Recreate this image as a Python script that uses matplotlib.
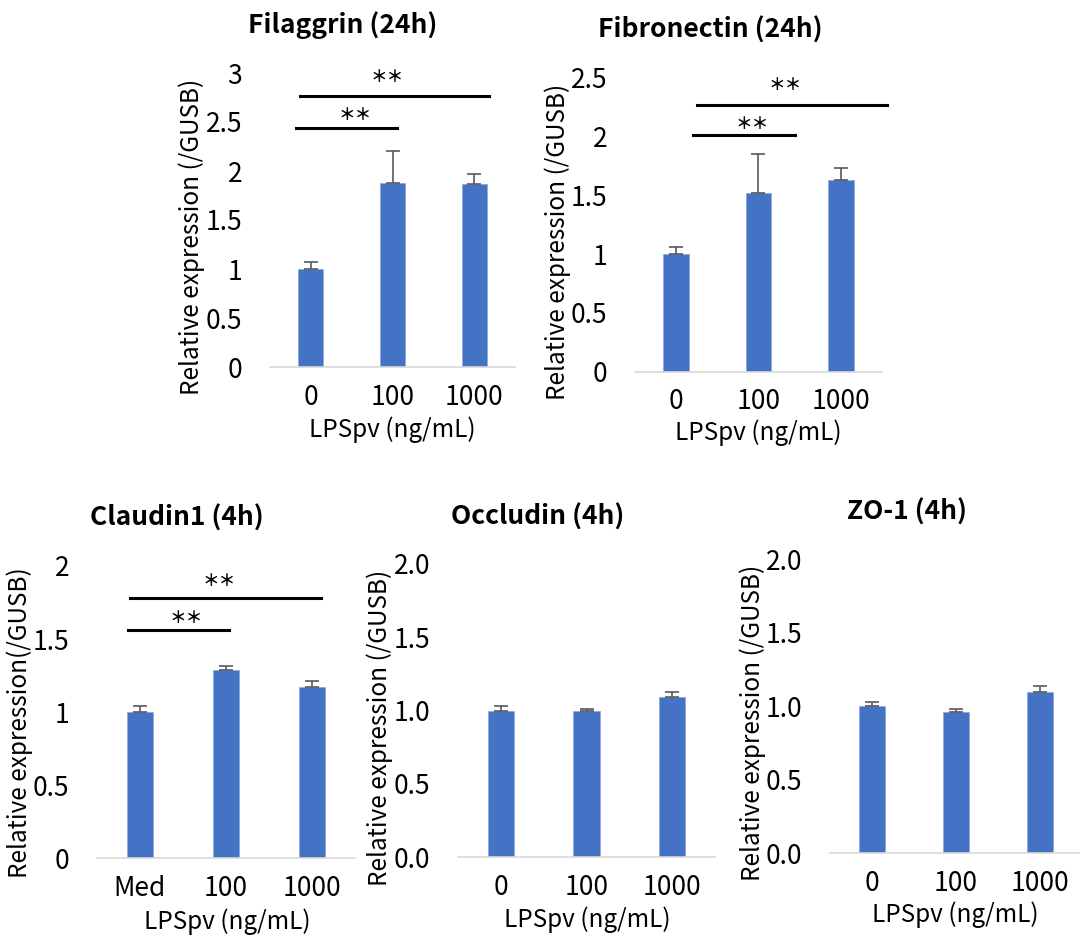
import matplotlib
matplotlib.use("Agg")
import numpy as np
import matplotlib.pyplot as plt

plt.rcParams['font.family'] = ['Noto Sans CJK JP', 'DejaVu Sans']

# data
cats_a = ['0', '100', '1000']
cats_b = ['Med', '100', '1000']

filaggrin = [1.0, 1.88, 1.87]
filaggrin_err = [0.07, 0.32, 0.10]
fibronectin = [1.0, 1.52, 1.63]
fibronectin_err = [0.06, 0.33, 0.10]
claudin1 = [1.0, 1.29, 1.17]
claudin1_err = [0.04, 0.025, 0.04]
occludin = [1.0, 1.0, 1.09]
occludin_err = [0.035, 0.012, 0.038]
zo1 = [1.0, 0.96, 1.10]
zo1_err = [0.03, 0.02, 0.04]

# significance bars: (x0, x1, y, star_x, star_y)
filaggrin_sig = [(-0.18, 1.06, 2.44, 0.54, 2.57), (-0.13, 2.18, 2.77, 0.94, 2.96)]
fibronectin_sig = [(0.21, 1.44, 2.01, 0.92, 2.11), (0.25, 2.56, 2.27, 1.32, 2.44)]
claudin1_sig = [(-0.14, 1.04, 1.56, 0.54, 1.646), (-0.12, 2.11, 1.78, 0.92, 1.90)]

W, H = 1080, 941
fig = plt.figure(figsize=(W / 100, H / 100), dpi=100)

BLUE = '#4472C4'


def px(x0, y_bot, x1, y_top):
    return [x0 / W, 1 - y_bot / H, (x1 - x0) / W, (y_bot - y_top) / H]


def panel(rect, cats, vals, errs, ymax, step, fmt, sig, title, tpos,
          ylabel, ypos, xpos):
    ax = fig.add_axes(rect)
    x = np.arange(len(cats))
    ax.bar(x, vals, width=0.31, color=BLUE, edgecolor='#8FAADC', linewidth=0.6,
           zorder=2)
    ax.errorbar(x, vals, yerr=[np.zeros(len(errs)), errs], fmt='none',
                ecolor='#595959', elinewidth=1.2, capsize=5, capthick=1.2,
                zorder=3)
    ax.set_xlim(-0.5, 2.5)
    ax.set_ylim(0, ymax)
    ticks = np.arange(0, ymax + 1e-9, step)
    ax.set_yticks(ticks)
    ax.set_yticklabels([fmt(t) for t in ticks])
    ax.set_xticks(x)
    ax.set_xticklabels(cats)
    ax.tick_params(axis='both', length=0, labelsize=19)
    ax.tick_params(axis='y', pad=20)
    ax.tick_params(axis='x', pad=12)
    for s in ['top', 'right', 'left']:
        ax.spines[s].set_visible(False)
    ax.spines['bottom'].set_color('#D9D9D9')
    ax.spines['bottom'].set_linewidth(1.2)
    ax.spines['bottom'].set_clip_on(False)
    for (a, b, y, sx, sy) in sig:
        ax.plot([a, b], [y, y], color='black', lw=2.2, clip_on=False, zorder=4)
        ax.text(sx, sy, '＊＊', ha='center', va='center', fontsize=12,
                fontweight='bold', clip_on=False)
    fig.text(tpos[0] / W, 1 - tpos[1] / H, title, ha='center', va='center',
             fontsize=19, fontweight='bold')
    fig.text(ypos[0] / W, 1 - ypos[1] / H, ylabel, ha='center', va='center',
             rotation=90, fontsize=17.5)
    fig.text(xpos[0] / W, 1 - xpos[1] / H, 'LPSpv (ng/mL)', ha='center',
             va='center', fontsize=17.5)
    return ax


def f_short(t):
    return ('%g' % t)


def f_one(t):
    return '%.1f' % t


panel(px(270, 367, 515, 73), cats_a, filaggrin, filaggrin_err, 3, 0.5, f_short,
      filaggrin_sig, 'Filaggrin (24h)', (343, 25),
      'Relative expression (/GUSB)', (192, 237), (392, 430))
panel(px(635, 371.7, 882, 77.7), cats_a, fibronectin, fibronectin_err, 2.5, 0.5,
      f_short, fibronectin_sig, 'Fibronectin (24h)', (710, 30),
      'Relative expression (/GUSB)', (558, 242), (758, 433))
panel(px(97, 858.3, 355, 566), cats_b, claudin1, claudin1_err, 2, 0.5, f_short,
      claudin1_sig, 'Claudin1 (4h)', (177, 518),
      'Relative expression(/GUSB)', (20, 723), (227, 922))
panel(px(458, 857.3, 715, 564), cats_a, occludin, occludin_err, 2, 0.5, f_one,
      [], 'Occludin (4h)', (538, 517),
      'Relative expression (/GUSB)', (380, 728), (587, 920))
panel(px(830, 853.3, 1082, 559.3), cats_a, zo1, zo1_err, 2, 0.5, f_one,
      [], 'ZO-1 (4h)', (907, 512),
      'Relative expression (/GUSB)', (753, 723), (955, 915))

fig.savefig('out.png', dpi=100, facecolor='white')
